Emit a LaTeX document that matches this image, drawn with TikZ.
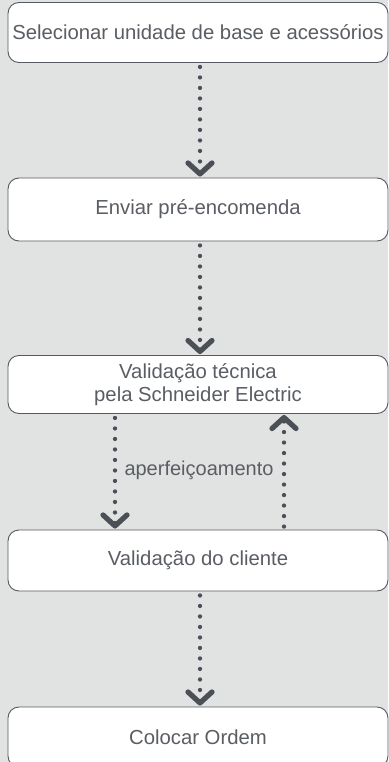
\documentclass[tikz,border=0pt]{standalone}
\usepackage{fontspec}
\setmainfont{Liberation Sans}
\usetikzlibrary{arrows.meta}
\definecolor{bg}{HTML}{E1E2E2}
\definecolor{dk}{HTML}{4B5057}
\definecolor{tx}{HTML}{5A5E63}
\definecolor{bd}{HTML}{555A60}
\tikzset{
  stepbox/.style={draw=bd, line width=0.9pt, fill=white, rounded corners=11pt, text=tx, font=\fontsize{20.3}{23}\selectfont, align=center, inner sep=0pt},
  flow/.style={draw=dk, line width=4.3pt, line cap=round, dash pattern=on 0pt off 10.5pt,
    -{Straight Barb[length=11pt, width=24pt, line width=5.2pt, round]}, shorten >=1pt},
}
\begin{document}
\begin{tikzpicture}[x=1pt, y=-1pt]
\fill[bg] (0,0) rectangle (388,762);
\useasboundingbox (0,0) rectangle (388,762);
\node[stepbox, minimum width=380pt, minimum height=60pt] (b1) at (198,32.5) {Selecionar unidade de base e acessórios};
\node[stepbox, minimum width=380pt, minimum height=63pt] (b2) at (198,209.5) {Enviar pré-encomenda};
\node[stepbox, minimum width=380pt, minimum height=58pt] (b3) at (198,384.5) {Validação técnica\\pela Schneider Electric};
\node[stepbox, minimum width=380pt, minimum height=61pt] (b4) at (198,560.5) {Validação do cliente};
\node[stepbox, minimum width=380pt, minimum height=60pt] (b5) at (198,737) {Colocar Ordem};
\coordinate (x1) at (200,0);
\coordinate (xl) at (115,0);
\coordinate (xr) at (284,0);
\draw[flow] ([yshift=-4pt]b1.south -| x1) -- (b2.north -| x1);
\draw[flow] ([yshift=-4pt]b2.south -| x1) -- (b3.north -| x1);
\draw[flow] ([yshift=-4pt]b3.south -| xl) -- (b4.north -| xl);
\draw[flow] ([yshift=3pt]b4.north -| xr) -- (b3.south -| xr);
\draw[flow] ([yshift=-4pt]b4.south -| x1) -- (b5.north -| x1);
\node[text=tx, font=\fontsize{20}{23}\selectfont, inner sep=0pt] (lab) at (199,470) {aperfeiçoamento};
\end{tikzpicture}
\end{document}
